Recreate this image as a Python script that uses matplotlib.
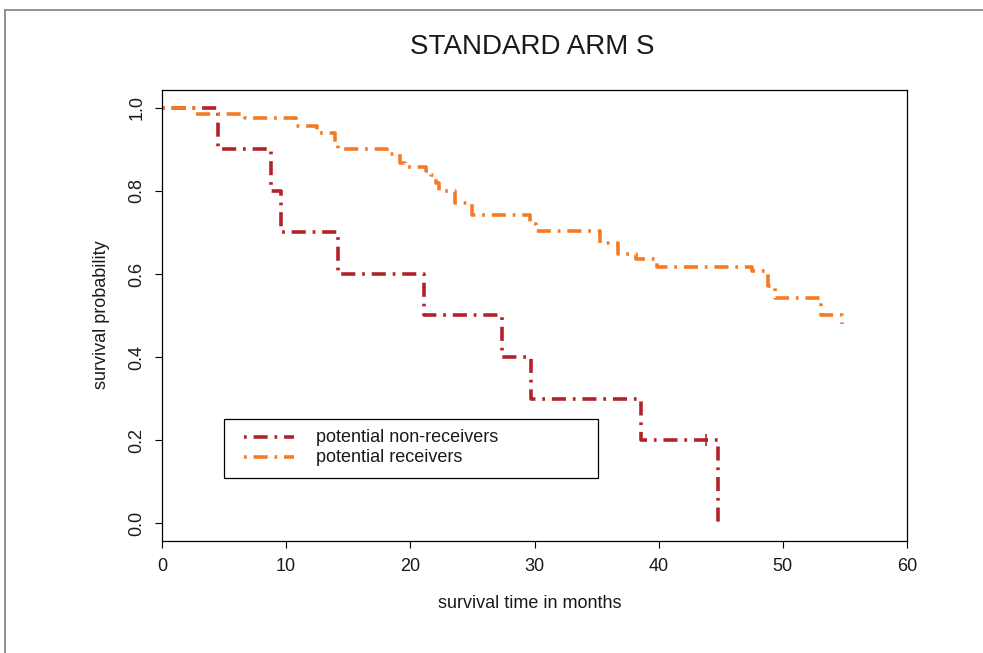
import numpy as np
import matplotlib
matplotlib.use("Agg")
import matplotlib.pyplot as plt
from matplotlib.lines import Line2D
from matplotlib.patches import Rectangle

plt.rcParams['font.family'] = ['Liberation Sans', 'DejaVu Sans']

# Kaplan-Meier step estimates (time in months, survival probability)
nonrecv_time = [0, 4.5, 8.8, 9.6, 14.2, 21.1, 27.4, 29.7, 38.6, 44.8]
nonrecv_surv = [1.0, 0.9, 0.8, 0.7, 0.6, 0.5, 0.4, 0.3, 0.2, 0.0]
nonrecv_censor = [43.8]

recv_time = [0, 2.7, 6.7, 10.8, 12.5, 13.9, 14.2, 18.1, 19.2, 19.6, 21.3, 21.7,
             22.1, 22.3, 23.6, 25.0, 29.6, 30.1, 35.3, 36.7, 38.2, 39.9, 47.5,
             48.8, 49.4, 53.1, 54.8]
recv_surv = [1.0, 0.986, 0.976, 0.957, 0.939, 0.913, 0.900, 0.888, 0.868, 0.857,
             0.848, 0.838, 0.820, 0.800, 0.771, 0.741, 0.720, 0.703, 0.675, 0.649,
             0.636, 0.617, 0.606, 0.571, 0.541, 0.502, 0.480]

labels = ["potential non-receivers", "potential receivers"]
title = "STANDARD ARM S"
xlabel = "survival time in months"
ylabel = "survival probability"
xticks = [0, 10, 20, 30, 40, 50, 60]
yticks = [0.0, 0.2, 0.4, 0.6, 0.8, 1.0]

RED = "#B2222A"
ORANGE = "#F47B26"
LW = 2.6
DOTDASH = (0, (0.75, 1.9, 3.9, 1.9))
TEXT = "#1a1a1a"

W, H = 983, 653


def fx(x):
    return x / W


def fy(y):
    return 1 - y / H


fig = plt.figure(figsize=(W / 100, H / 100), dpi=100)

# outer frame of the graphics window
fig.add_artist(Line2D([fx(5), fx(5)], [fy(10), 0], transform=fig.transFigure,
                      color="#8a8a8a", lw=1.3))
fig.add_artist(Line2D([fx(5), 1], [fy(10), fy(10)], transform=fig.transFigure,
                      color="#8a8a8a", lw=1.3))

ax = fig.add_axes([fx(162), fy(541), (907 - 162) / W, (541 - 90) / H])

ax.step(nonrecv_time, nonrecv_surv, where="post", color=RED, lw=LW,
        linestyle=DOTDASH, dash_capstyle="butt")
ax.step(recv_time, recv_surv, where="post", color=ORANGE, lw=LW,
        linestyle=DOTDASH, dash_capstyle="butt")

# censoring marks on the non-receiver curve
idx = np.searchsorted(nonrecv_time, nonrecv_censor, side="right") - 1
ax.plot(nonrecv_censor, np.array(nonrecv_surv)[idx], ls="none", marker="|",
        ms=8, mew=1.2, color=RED)

ax.set_xlim(0, 60)
ax.set_ylim(-0.043, 1.043)
ax.set_xticks(xticks)
ax.set_xticklabels([str(t) for t in xticks])
ax.set_yticks(yticks)
ax.set_yticklabels([f"{t:.1f}" for t in yticks], rotation=90, va="center")
ax.tick_params(direction="out", length=5, width=0.8, labelsize=13, pad=7,
               colors="black", labelcolor=TEXT)
for s in ax.spines.values():
    s.set_linewidth(0.9)
    s.set_color("black")

fig.text(fx(532), fy(47), title, ha="center", va="center", fontsize=20,
         color=TEXT)
fig.text(fx(530), fy(603), xlabel, ha="center", va="center", fontsize=13,
         color=TEXT)
fig.text(fx(101), fy(315), ylabel, ha="center", va="center", fontsize=13,
         rotation=90, color=TEXT)

# legend box
fig.add_artist(Rectangle((fx(224), fy(478)), (598 - 224) / W, (478 - 419) / H,
                         transform=fig.transFigure, fill=False,
                         edgecolor="black", lw=0.9))
for yy, col, lab in [(437, RED, labels[0]), (457, ORANGE, labels[1])]:
    fig.add_artist(Line2D([fx(244), fx(294)], [fy(yy), fy(yy)],
                          transform=fig.transFigure, color=col, lw=LW,
                          linestyle=DOTDASH, dash_capstyle="butt"))
    fig.text(fx(316), fy(yy), lab, ha="left", va="center", fontsize=13,
             color=TEXT)

fig.savefig("out.png", dpi=100, facecolor="white")
